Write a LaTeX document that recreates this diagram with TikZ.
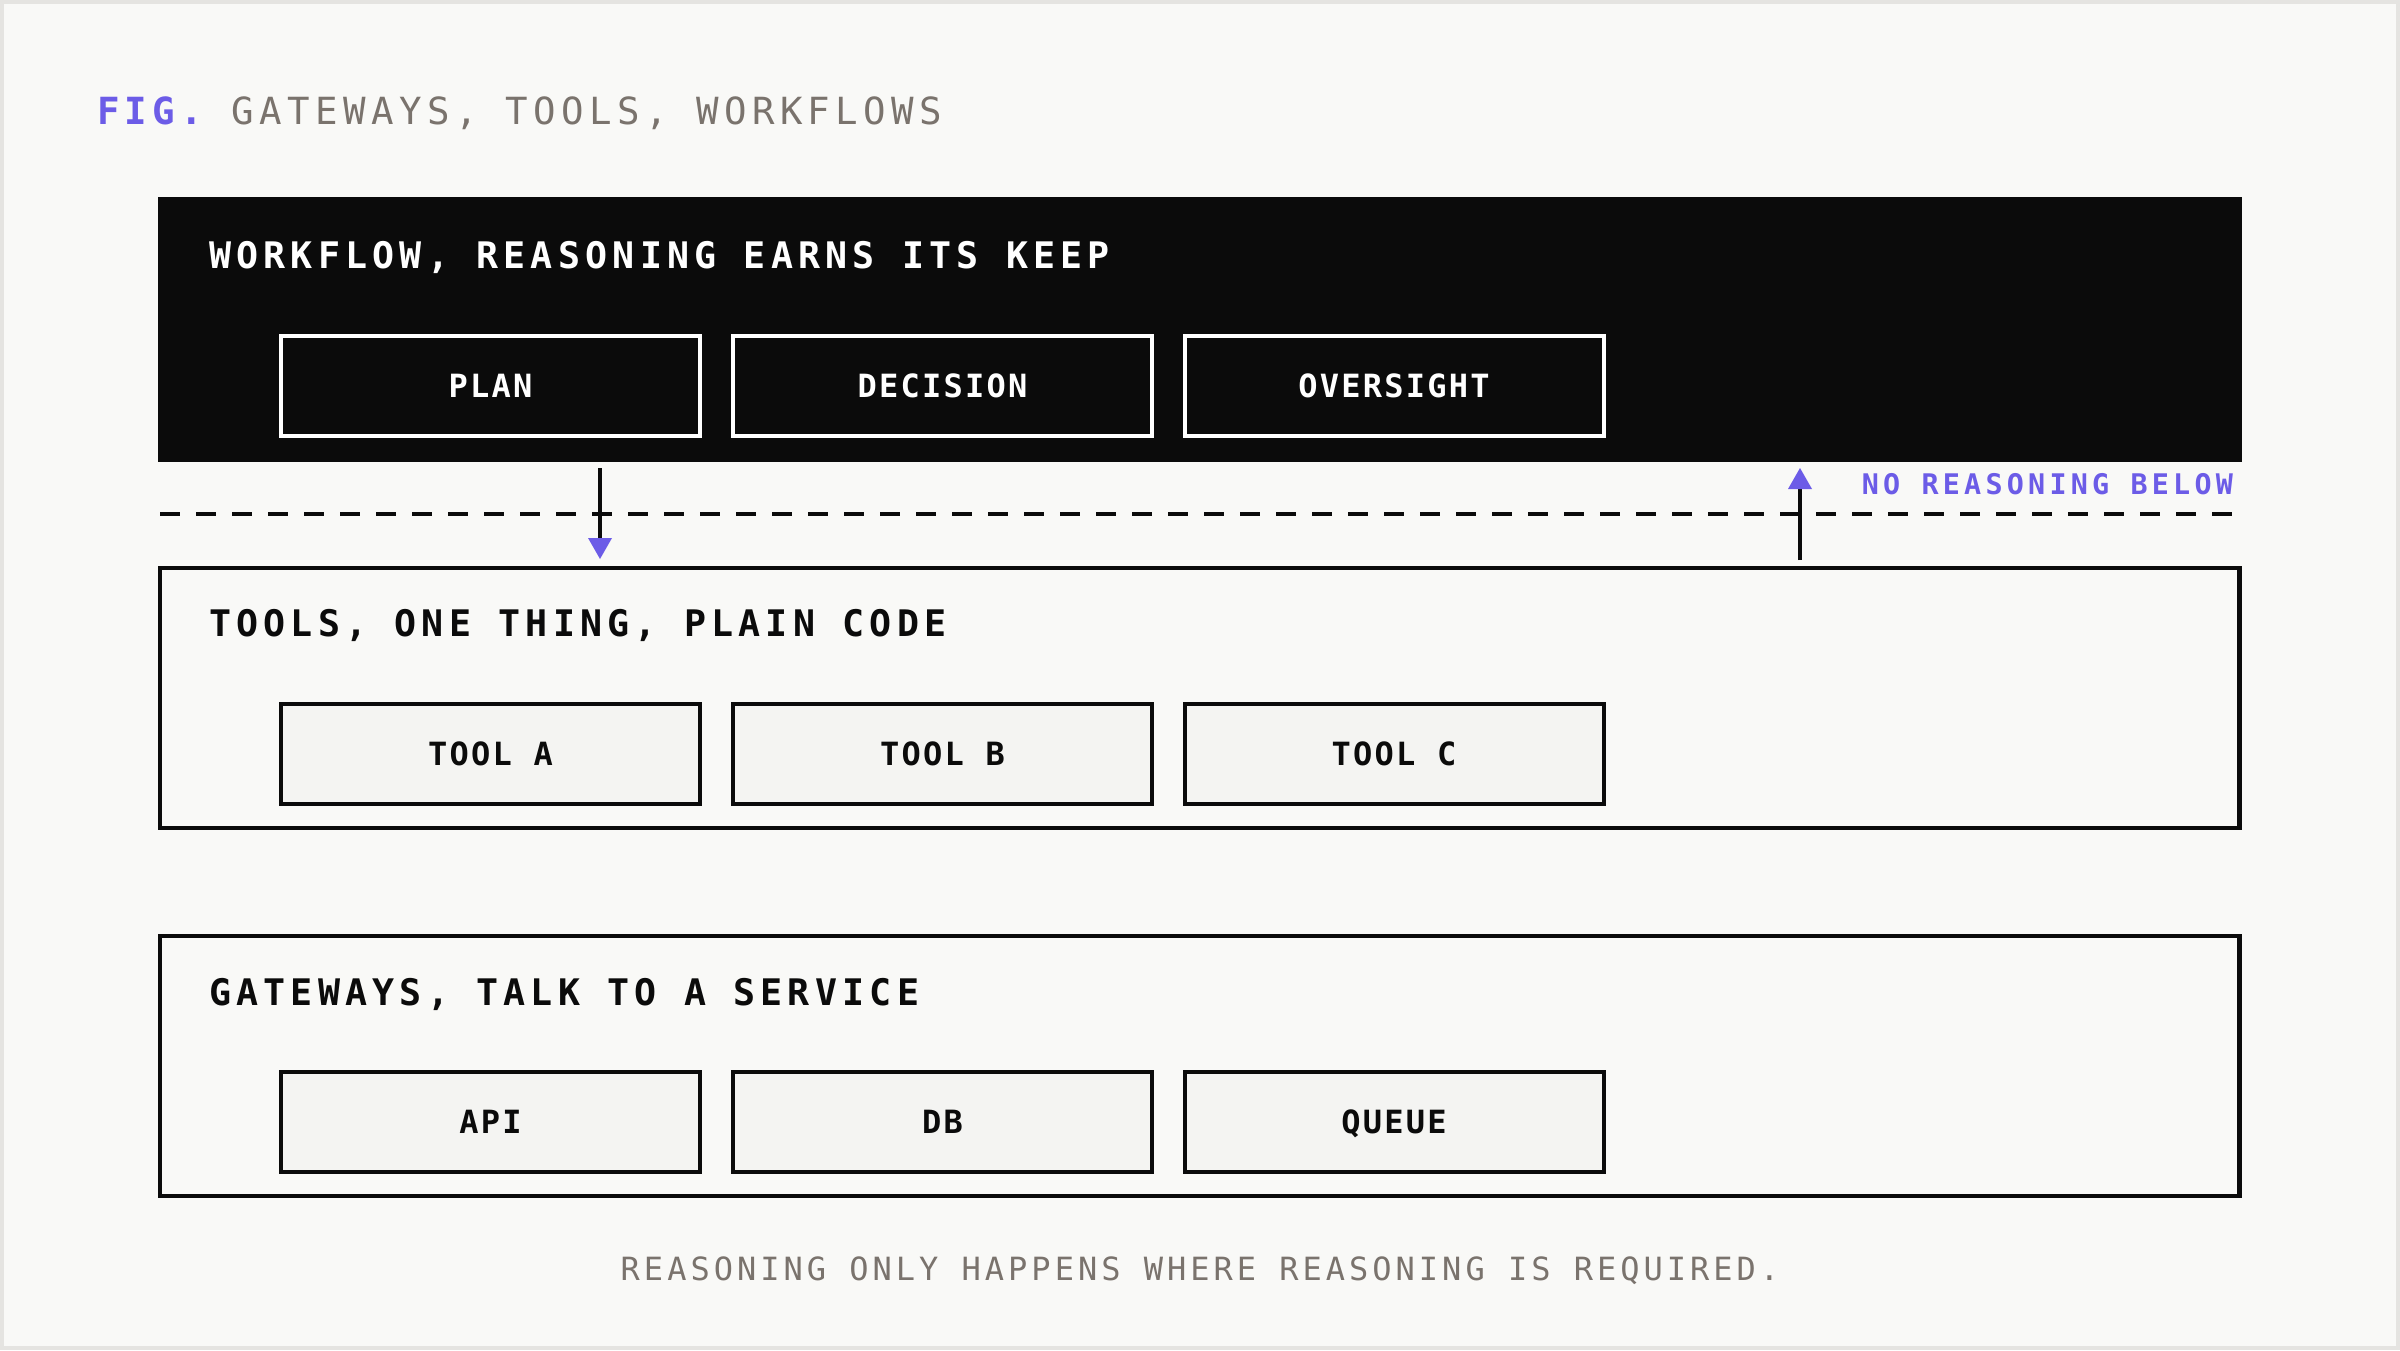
\documentclass[tikz,border=0pt]{standalone}
\usepackage{fontspec}
\usetikzlibrary{arrows.meta}
\newfontfamily\hdrfont{DejaVu Sans Mono}[LetterSpace=14.3]
\newfontfamily\titfont{DejaVu Sans Mono}[LetterSpace=14.6]
\newfontfamily\labfont{DejaVu Sans Mono}[LetterSpace=7.0]
\newfontfamily\notefont{DejaVu Sans Mono}[LetterSpace=14.9]
\newfontfamily\footfont{DejaVu Sans Mono}[LetterSpace=12.5]
\definecolor{bgc}{HTML}{F9F9F7}
\definecolor{framec}{HTML}{E5E4E1}
\definecolor{inkc}{HTML}{0B0B0B}
\definecolor{accent}{HTML}{6C5CE7}
\definecolor{greytext}{HTML}{7A736D}
\definecolor{cellfill}{HTML}{F4F4F2}
\tikzset{
  every node/.style={inner sep=0pt, outer sep=0pt},
  hdrtext/.style={anchor=base west, font=\fontsize{36.6pt}{40pt}\hdrfont\bfseries},
  cell/.style={minimum width=419pt, minimum height=100pt, line width=4pt,
    text height=23.3pt, text depth=0pt, font=\fontsize{32pt}{36pt}\labfont\bfseries},
  darkcell/.style={cell, draw=white, fill=inkc, text=white},
  lightcell/.style={cell, draw=inkc, fill=cellfill, text=inkc},
  layer/.style={draw=inkc, line width=4.5pt, fill=bgc, minimum width=2079.5pt, minimum height=260pt},
  conn/.style={draw=inkc, line width=4.5pt, -{Triangle[length=21pt,width=24pt,line width=0pt,color=accent]}},
  divider/.style={draw=inkc, line width=4pt, dash pattern=on 20pt off 16pt}
}
\begin{document}
\begin{tikzpicture}[x=1pt,y=-1pt]
\useasboundingbox (0,0) rectangle (2400,1350);
\fill[framec] (0,0) rectangle (2400,1350);
\fill[bgc] (4,4) rectangle (2396,1346);
% title
\node[anchor=base west, text=greytext, font=\fontsize{37.4pt}{40pt}\titfont] (title) at (97,124)
  {\textcolor{accent}{\bfseries FIG.} GATEWAYS, TOOLS, WORKFLOWS};
% workflow layer
\node[fill=inkc, minimum width=2084.5pt, minimum height=265pt] (wf) at (1199.75,329.5) {};
\node[hdrtext, text=white] (wfh) at (209,268) {WORKFLOW, REASONING EARNS ITS KEEP};
\node[darkcell] (plan) at (490.5,386) {PLAN};
\node[darkcell] (decision) at (942.5,386) {DECISION};
\node[darkcell] (oversight) at (1394,386) {OVERSIGHT};
% divider
\coordinate (dl) at (160,513.5);
\coordinate (dr) at (2235,513.5);
\draw[divider] (dl) -- (dr);
\node[anchor=base east, text=accent, font=\fontsize{28.4pt}{32pt}\notefont\bfseries] (note) at (2233,494.5) {NO REASONING BELOW};
% tools layer
\node[layer] (tools) at (1199.75,698) {};
\node[hdrtext, text=inkc] (toolsh) at (209,636.7) {TOOLS, ONE THING, PLAIN CODE};
\node[lightcell] (toola) at (490.5,754) {TOOL A};
\node[lightcell] (toolb) at (942.5,754) {TOOL B};
\node[lightcell] (toolc) at (1394,754) {TOOL C};
% gateways layer
\node[layer] (gw) at (1199.75,1065.75) {};
\node[hdrtext, text=inkc] (gwh) at (209,1005) {GATEWAYS, TALK TO A SERVICE};
\node[lightcell] (api) at (490.5,1122) {API};
\node[lightcell] (db) at (942.5,1122) {DB};
\node[lightcell] (queue) at (1394,1122) {QUEUE};
% arrows
\coordinate (downs) at (600,468);
\coordinate (downe) at (600,559);
\coordinate (ups) at (1800,560);
\coordinate (upe) at (1800,468);
\draw[conn] (downs) -- (downe);
\draw[conn] (ups) -- (upe);
% footer
\node[anchor=base, text=greytext, font=\fontsize{32pt}{36pt}\footfont] (foot) at (1200,1280)
  {REASONING ONLY HAPPENS WHERE REASONING IS REQUIRED.};
\end{tikzpicture}
\end{document}
